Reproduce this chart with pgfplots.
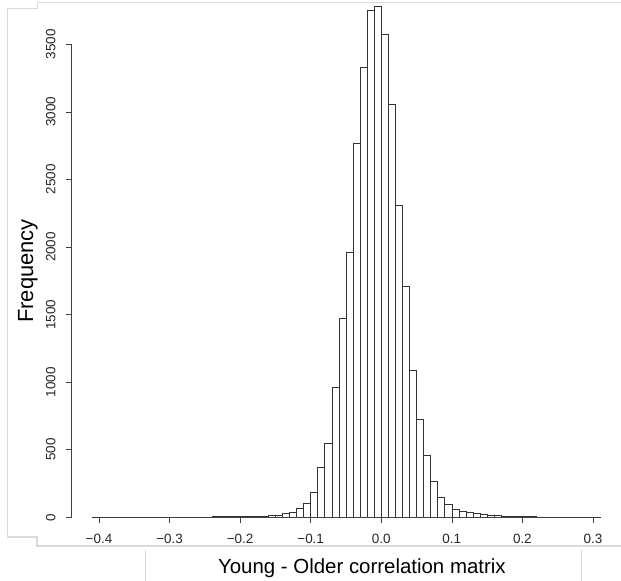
\documentclass[border=0pt]{standalone}
\usepackage{fontspec}
\setmainfont{Liberation Sans}
\usepackage{pgfplots}
\pgfplotsset{compat=1.18}
\definecolor{frame}{HTML}{DADADA}

\begin{document}
\begin{tikzpicture}[x=1bp,y=1bp]
  \path[use as bounding box] (0,0) rectangle (621,581);
  % faint window frame of the screenshot
  \draw[frame, line width=1.2bp] (621,578.3) -- (37.3,578.3) -- (37.3,572.7) -- (7.3,572.7) -- (7.3,44) -- (37,44) -- (37,35) -- (621,35);
  \draw[frame, line width=0.8bp] (145,31) -- (145,0);
  \draw[frame, line width=0.8bp] (581.5,31) -- (581.5,0);
  \begin{axis}[at={(71.6bp,63.7bp)}, anchor=south west, scale only axis,
      width=548.7bp, height=513.5bp,
      xmin=-0.4388, xmax=0.3388, ymin=0, ymax=3800, enlargelimits=false,
      clip=false, axis line style={draw=none},
      xtick pos=bottom, ytick pos=left, tick align=outside,
      major tick length=6bp, every tick/.style={black!75, line width=0.6bp},
      xtick={-0.4,-0.3,-0.2,-0.1,0,0.1,0.2,0.3},
      xticklabels={−0.4,−0.3,−0.2,−0.1,0.0,0.1,0.2,0.3},
      ytick={0,500,1000,1500,2000,2500,3000,3500},
      yticklabels={0,500,1000,1500,2000,2500,3000,3500},
      tick label style={font=\fontsize{13.5}{16}\selectfont, text=black!85},
      xticklabel style={anchor=north, inner xsep=0pt, inner ysep=10.5bp},
      yticklabel style={rotate=90, anchor=south, inner xsep=0pt, inner ysep=10bp},
      xlabel={Young - Older correlation matrix},
      ylabel={Frequency},
      every axis x label/.style={at={(axis description cs:0.529,-0.109)}, anchor=base, font=\fontsize{20.5}{24}\selectfont},
      every axis y label/.style={at={(axis description cs:-0.0703,0.4796)}, rotate=90, anchor=base, font=\fontsize{22}{26}\selectfont},
    ]
    \addplot[ybar interval, fill=white, draw=black!80, line width=0.6bp] coordinates {
      (-0.41,1) (-0.40,0) (-0.39,1) (-0.38,0) (-0.37,1) (-0.36,1) (-0.35,1) (-0.34,1)
      (-0.33,1) (-0.32,1) (-0.31,2) (-0.30,1) (-0.29,2) (-0.28,2) (-0.27,3) (-0.26,3)
      (-0.25,3) (-0.24,4) (-0.23,4) (-0.22,5) (-0.21,5) (-0.20,6) (-0.19,7) (-0.18,7)
      (-0.17,9) (-0.16,12) (-0.15,17) (-0.14,28) (-0.13,40) (-0.12,66) (-0.11,107)
      (-0.10,185) (-0.09,367) (-0.08,547) (-0.07,959) (-0.06,1472) (-0.05,1961)
      (-0.04,2765) (-0.03,3333) (-0.02,3753) (-0.01,3780) (0.00,3577) (0.01,3055)
      (0.02,2311) (0.03,1712) (0.04,1090) (0.05,725) (0.06,456) (0.07,269) (0.08,149)
      (0.09,98) (0.10,60) (0.11,48) (0.12,37) (0.13,30) (0.14,22) (0.15,17) (0.16,12)
      (0.17,9) (0.18,7) (0.19,6) (0.20,5) (0.21,4) (0.22,3) (0.23,3) (0.24,2) (0.25,2)
      (0.26,1) (0.27,1) (0.28,1) (0.29,1) (0.30,1) (0.31,0)
    };
    % R style axis lines that span only the tick range
    \draw[black!75, line width=0.6bp] (axis cs:-0.4,0) -- (axis cs:0.3,0);
    \draw[black!75, line width=0.6bp] (axis cs:-0.4388,0) -- (axis cs:-0.4388,3500);
  \end{axis}
\end{tikzpicture}
\end{document}
